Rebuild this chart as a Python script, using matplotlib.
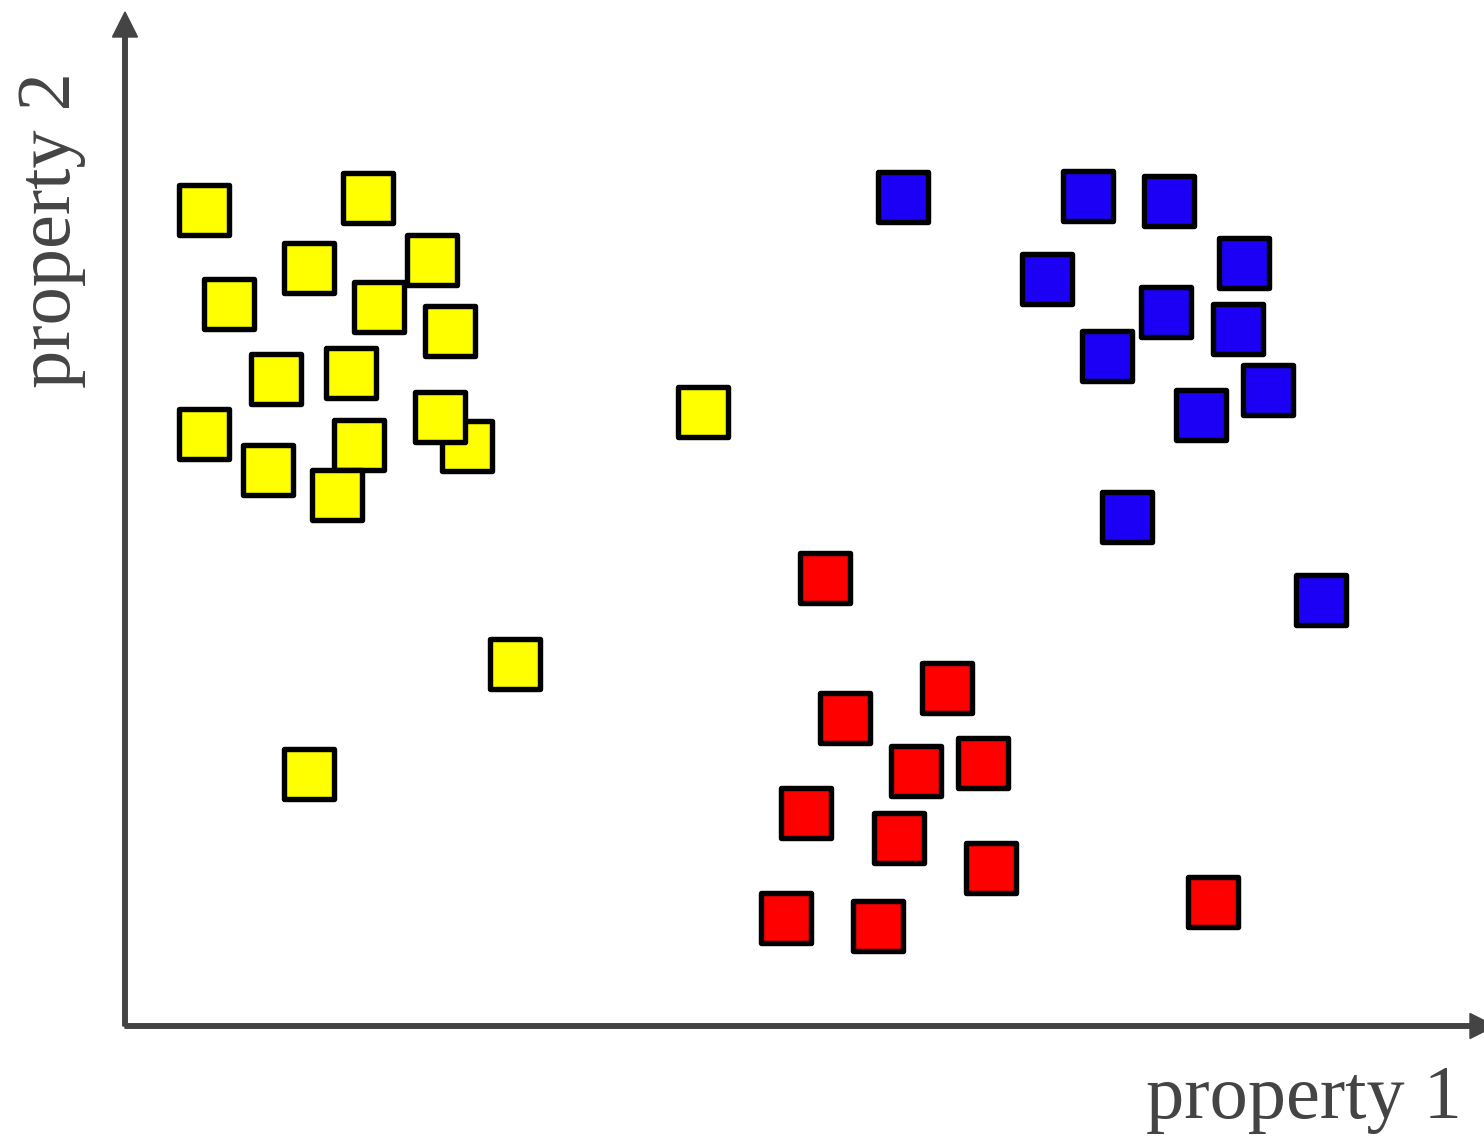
import matplotlib
matplotlib.use('Agg')
import matplotlib.pyplot as plt

# positions (origin at the axes corner)
yellow_x = [79, 243, 184, 307, 104, 254, 325, 151, 226, 79, 342, 315, 234, 212, 143, 578, 390, 184]
yellow_y = [816, 828, 758, 766, 722, 719, 695, 647, 653, 592, 580, 609, 581, 531, 556, 614, 362, 252]

blue_x = [778, 963, 1044, 1119, 922, 1041, 1113, 982, 1143, 1076, 1002, 1196]
blue_y = [829, 830, 825, 763, 747, 714, 697, 670, 636, 611, 509, 426]

red_x = [700, 822, 720, 858, 791, 681, 774, 866, 661, 753, 1088]
red_y = [448, 338, 308, 263, 255, 213, 188, 158, 108, 100, 124]

axis_color = '#444444'

fig = plt.figure(figsize=(14.84, 11.36), dpi=100)
ax = fig.add_axes([0, 0, 1, 1])
ax.set_xlim(-125, 1359)
ax.set_ylim(-110, 1026)
ax.axis('off')

# axes with arrow heads
ax.arrow(0, 0, 0, 1014, width=4.5, head_width=25, head_length=25,
         length_includes_head=True, color=axis_color, zorder=1)
ax.arrow(0, 0, 1370, 0, width=4.5, head_width=25, head_length=25,
         length_includes_head=True, color=axis_color, zorder=1)

size = 36.0 ** 2
for xs, ys, col in [(yellow_x, yellow_y, '#ffff00'),
                    (blue_x, blue_y, '#1c00f5'),
                    (red_x, red_y, '#ff0000')]:
    for x, y in zip(xs, ys):
        ax.scatter([x], [y], s=size, marker='s', c=col,
                   edgecolors='black', linewidths=3.9, zorder=2)

fnt = ['Liberation Serif', 'DejaVu Serif']
ax.text(1337, -92, 'property 1', ha='right', va='baseline', fontsize=55,
        color=axis_color, family=fnt)
ax.text(-73, 796, 'property 2', ha='center', va='center', rotation=90,
        fontsize=55, color=axis_color, family=fnt)

fig.savefig('out.png', dpi=100)
